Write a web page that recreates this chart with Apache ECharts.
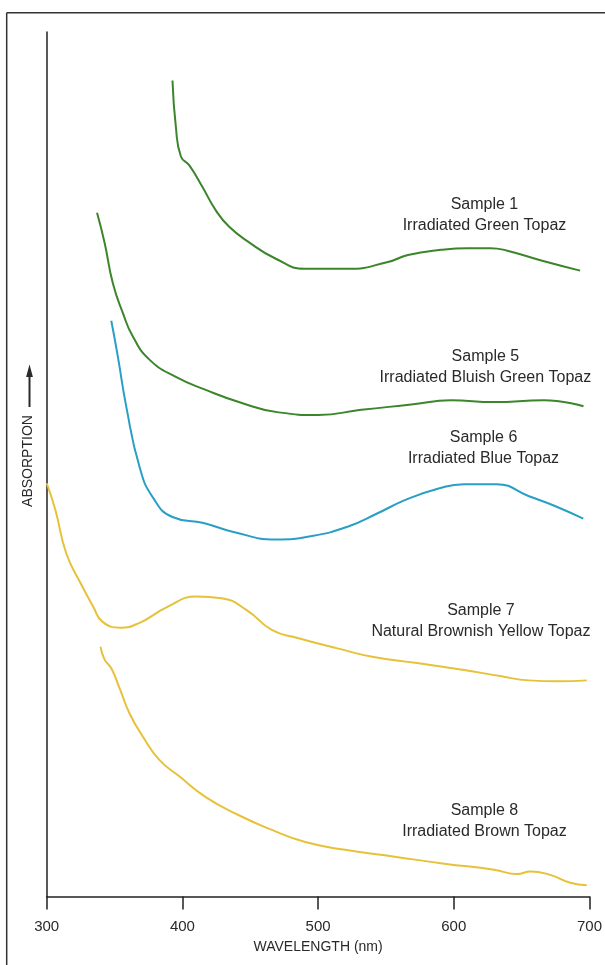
<!DOCTYPE html>
<html>
<head>
<meta charset="utf-8">
<script src="https://cdn.jsdelivr.net/npm/echarts@6/dist/echarts.min.js"></script>
<style>
html,body{margin:0;padding:0;background:#fff;}
#chart{width:605px;height:965px;}
</style>
</head>
<body>
<div id="chart"></div>
<script>
// Wavelength (nm) and relative absorption (arbitrary units, 0-100)
var xTicks = [300, 400, 500, 600, 700];

var sample1 = [[392.7,94.4],[395.2,89.0],[398.9,85.6],[405.0,84.6],[414.7,82.1],[424.5,79.4],[434.3,77.5],[448.9,75.7],[468.5,73.8],[490.5,72.6],[522.2,72.6],[551.5,73.4],[566.2,74.2],[590.5,74.8],[610.1,75.0],[627.2,75.0],[639.4,74.7],[663.8,73.6],[693.1,72.4]];

var sample5 = [[337.1,79.1],[342.7,75.6],[348.8,70.9],[356.1,67.5],[363.4,64.8],[375.7,62.1],[395.2,60.1],[417.2,58.6],[441.6,57.2],[470.9,56.0],[500.2,55.7],[531.9,56.3],[568.6,56.9],[597.9,57.4],[629.7,57.2],[666.3,57.4],[695.6,56.7]];

var sample6 = [[347.6,66.6],[352.5,62.4],[358.6,56.7],[368.4,49.7],[378.1,46.2],[392.7,43.9],[415.6,43.2],[436.9,42.2],[468.9,41.3],[495.5,41.7],[522.2,42.8],[543.5,44.3],[564.8,45.9],[588.8,47.2],[607.5,47.7],[631.5,47.7],[655.4,46.3],[674.1,45.2],[695.4,43.7]];

var sample7 = [[300.0,47.8],[306.4,44.7],[314.4,39.7],[325.1,36.2],[334.4,33.5],[341.0,31.8],[354.4,31.1],[367.7,31.6],[389.0,33.5],[410.3,34.7],[428.9,34.5],[447.6,33.1],[466.2,30.8],[484.9,29.9],[514.2,28.7],[540.9,27.7],[572.8,27.0],[607.5,26.2],[634.1,25.5],[655.4,25.0],[676.7,24.9],[698.0,25.0]];

var sample8 = [[339.6,28.9],[342.7,27.4],[347.6,26.4],[353.7,24.1],[361.0,21.2],[370.8,18.5],[383.0,15.8],[397.7,13.9],[417.2,11.5],[441.6,9.4],[466.0,7.7],[490.5,6.3],[519.8,5.4],[556.4,4.6],[593.0,3.8],[629.7,3.1],[646.7,2.6],[656.5,2.9],[671.1,2.5],[685.8,1.6],[698.0,1.3]];

var sampleTitles = ['Sample 1','Sample 5','Sample 6','Sample 7','Sample 8'];
var sampleNames = ['Irradiated Green Topaz','Irradiated Bluish Green Topaz','Irradiated Blue Topaz','Natural Brownish Yellow Topaz','Irradiated Brown Topaz'];

var FONT = '"Liberation Sans", Arial, sans-serif';
var GREEN = '#3b852b', BLUE = '#2a9fc6', YELLOW = '#e6c13a';

function mkSeries(idx, data, color, labelCoord) {
  return {
    type: 'line',
    data: data,
    smooth: 0.5,
    showSymbol: false,
    symbol: 'none',
    lineStyle: {color: color, width: 2},
    animation: false,
    z: 3,
    markPoint: {
      symbol: 'circle',
      symbolSize: 0,
      silent: true,
      animation: false,
      data: [{coord: labelCoord}],
      label: {
        show: true,
        position: 'inside',
        formatter: sampleTitles[idx] + '\n' + sampleNames[idx],
        color: '#2a2a2a',
        fontFamily: FONT,
        fontSize: 16,
        lineHeight: 21,
        align: 'center',
        verticalAlign: 'middle'
      }
    }
  };
}

var chart = echarts.init(document.getElementById('chart'), null, {renderer: 'canvas'});
chart.setOption({
  backgroundColor: '#ffffff',
  animation: false,
  grid: {left: 46.7, right: 12.3, top: 32, bottom: 68.5},
  xAxis: {
    type: 'value',
    min: 300, max: 700, interval: 100,
    name: 'WAVELENGTH (nm)',
    nameLocation: 'middle',
    nameGap: 44,
    nameTextStyle: {fontFamily: FONT, fontSize: 14, color: '#2a2a2a'},
    axisLine: {show: true, lineStyle: {color: '#222', width: 1.5}},
    axisTick: {show: true, length: 13, lineStyle: {color: '#222', width: 1.5}},
    axisLabel: {
      margin: 23, fontFamily: FONT, fontSize: 15, color: '#2a2a2a',
      formatter: function (v) { return xTicks.indexOf(v) >= 0 ? String(v) : ''; }
    },
    splitLine: {show: false}
  },
  yAxis: {
    type: 'value',
    min: 0, max: 100,
    axisLine: {show: true, lineStyle: {color: '#222', width: 1.5}},
    axisTick: {show: false},
    axisLabel: {show: false},
    splitLine: {show: false}
  },
  graphic: [
    {type: 'line', shape: {x1: 6.7, y1: 12.7, x2: 605, y2: 12.7}, style: {stroke: '#333', lineWidth: 1.5}},
    {type: 'line', shape: {x1: 6.7, y1: 12.7, x2: 6.7, y2: 965}, style: {stroke: '#333', lineWidth: 1.5}},
    {type: 'text', x: 28.5, y: 461, rotation: Math.PI / 2,
     style: {text: 'ABSORPTION', font: '14px ' + FONT, fill: '#2a2a2a', textAlign: 'center', textVerticalAlign: 'middle'}},
    {type: 'line', shape: {x1: 29.5, y1: 407, x2: 29.5, y2: 374}, style: {stroke: '#2a2a2a', lineWidth: 2}},
    {type: 'polygon', shape: {points: [[29.5, 364.5], [26.1, 377], [32.9, 377]]}, style: {fill: '#2a2a2a'}}
  ],
  series: [
    mkSeries(0, sample1, GREEN, [622.6, 78.8]),
    mkSeries(1, sample5, GREEN, [623.3, 61.2]),
    mkSeries(2, sample6, BLUE, [621.9, 51.9]),
    mkSeries(3, sample7, YELLOW, [620.0, 31.9]),
    mkSeries(4, sample8, YELLOW, [622.6, 8.7])
  ]
});
</script>
</body>
</html>
